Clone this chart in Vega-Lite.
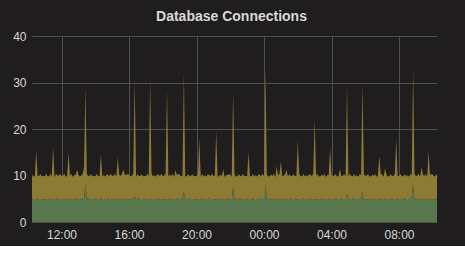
{
"$schema":"https://vega.github.io/schema/vega-lite/v6.json",
"padding":{"left":12,"top":10,"right":28,"bottom":6},
"width":405,"height":186,
"background":"#1f1d1d",
"title":{"text":"Database Connections","font":"Liberation Sans","fontSize":14,"fontWeight":"bold","color":"#d8d9da","anchor":"middle","frame":"group","offset":6,"dx":-3},
"config":{"view":{"stroke":null},"axis":{"labelFont":"Liberation Sans","labelFontSize":12,"labelColor":"#d8d9da","gridColor":"#505050","gridWidth":1,"ticks":false,"domain":false}},
"data":{"values":[
{"t":"2024-01-01T10:15","g":4.8,"y":5.5},{"t":"2024-01-01T10:20","g":5.0,"y":4.6},{"t":"2024-01-01T10:25","g":4.6,"y":5.2},{"t":"2024-01-01T10:30","g":4.9,"y":10.4},{"t":"2024-01-01T10:35","g":5.2,"y":4.7},{"t":"2024-01-01T10:40","g":4.8,"y":5.1},{"t":"2024-01-01T10:45","g":4.7,"y":5.6},{"t":"2024-01-01T10:50","g":5.0,"y":4.8},{"t":"2024-01-01T10:55","g":4.9,"y":5.0},
{"t":"2024-01-01T11:00","g":4.8,"y":5.0},{"t":"2024-01-01T11:05","g":5.0,"y":5.4},{"t":"2024-01-01T11:10","g":4.7,"y":5.2},{"t":"2024-01-01T11:15","g":4.9,"y":4.8},{"t":"2024-01-01T11:20","g":5.1,"y":5.3},{"t":"2024-01-01T11:25","g":4.8,"y":5.0},{"t":"2024-01-01T11:30","g":4.6,"y":11.6},{"t":"2024-01-01T11:35","g":5.0,"y":4.6},{"t":"2024-01-01T11:40","g":4.9,"y":5.4},{"t":"2024-01-01T11:45","g":5.2,"y":4.9},{"t":"2024-01-01T11:50","g":4.7,"y":5.2},{"t":"2024-01-01T11:55","g":4.8,"y":5.6},
{"t":"2024-01-01T12:00","g":5.0,"y":4.9},{"t":"2024-01-01T12:05","g":4.8,"y":5.2},{"t":"2024-01-01T12:10","g":4.9,"y":5.5},{"t":"2024-01-01T12:15","g":4.6,"y":5.0},{"t":"2024-01-01T12:20","g":5.1,"y":4.7},{"t":"2024-01-01T12:25","g":4.9,"y":10.0},{"t":"2024-01-01T12:30","g":4.8,"y":5.1},{"t":"2024-01-01T12:35","g":5.0,"y":5.4},{"t":"2024-01-01T12:40","g":4.7,"y":4.8},{"t":"2024-01-01T12:45","g":4.9,"y":5.2},{"t":"2024-01-01T12:50","g":5.1,"y":5.0},{"t":"2024-01-01T12:55","g":4.8,"y":6.5},
{"t":"2024-01-01T13:00","g":4.9,"y":5.3},{"t":"2024-01-01T13:05","g":4.7,"y":5.0},{"t":"2024-01-01T13:10","g":5.1,"y":4.9},{"t":"2024-01-01T13:15","g":4.8,"y":5.5},{"t":"2024-01-01T13:20","g":5.0,"y":6.8},{"t":"2024-01-01T13:25","g":8.0,"y":21.0},{"t":"2024-01-01T13:30","g":4.9,"y":5.4},{"t":"2024-01-01T13:35","g":5.2,"y":4.7},{"t":"2024-01-01T13:40","g":4.8,"y":5.1},{"t":"2024-01-01T13:45","g":4.7,"y":5.6},{"t":"2024-01-01T13:50","g":5.0,"y":4.8},{"t":"2024-01-01T13:55","g":4.9,"y":5.0},
{"t":"2024-01-01T14:00","g":4.8,"y":5.0},{"t":"2024-01-01T14:05","g":5.0,"y":5.4},{"t":"2024-01-01T14:10","g":4.7,"y":5.2},{"t":"2024-01-01T14:15","g":4.9,"y":4.8},{"t":"2024-01-01T14:20","g":5.1,"y":9.5},{"t":"2024-01-01T14:25","g":4.8,"y":5.0},{"t":"2024-01-01T14:30","g":4.6,"y":5.5},{"t":"2024-01-01T14:35","g":5.0,"y":4.6},{"t":"2024-01-01T14:40","g":4.9,"y":5.4},{"t":"2024-01-01T14:45","g":5.2,"y":4.9},{"t":"2024-01-01T14:50","g":4.7,"y":5.2},{"t":"2024-01-01T14:55","g":4.8,"y":5.6},
{"t":"2024-01-01T15:00","g":5.0,"y":4.9},{"t":"2024-01-01T15:05","g":4.8,"y":5.2},{"t":"2024-01-01T15:10","g":4.9,"y":5.5},{"t":"2024-01-01T15:15","g":4.6,"y":5.0},{"t":"2024-01-01T15:20","g":5.1,"y":8.9},{"t":"2024-01-01T15:25","g":4.9,"y":5.3},{"t":"2024-01-01T15:30","g":4.8,"y":5.1},{"t":"2024-01-01T15:35","g":5.0,"y":5.4},{"t":"2024-01-01T15:40","g":4.7,"y":6.6},{"t":"2024-01-01T15:45","g":4.9,"y":5.2},{"t":"2024-01-01T15:50","g":5.1,"y":5.0},{"t":"2024-01-01T15:55","g":4.8,"y":5.5},
{"t":"2024-01-01T16:00","g":4.9,"y":5.3},{"t":"2024-01-01T16:05","g":4.7,"y":5.0},{"t":"2024-01-01T16:10","g":5.1,"y":4.9},{"t":"2024-01-01T16:15","g":4.8,"y":5.5},{"t":"2024-01-01T16:20","g":5.6,"y":25.4},{"t":"2024-01-01T16:25","g":5.0,"y":4.6},{"t":"2024-01-01T16:30","g":4.9,"y":5.4},{"t":"2024-01-01T16:35","g":5.2,"y":4.7},{"t":"2024-01-01T16:40","g":4.8,"y":5.1},{"t":"2024-01-01T16:45","g":4.7,"y":5.6},{"t":"2024-01-01T16:50","g":5.0,"y":4.8},{"t":"2024-01-01T16:55","g":4.9,"y":5.0},
{"t":"2024-01-01T17:00","g":4.8,"y":5.0},{"t":"2024-01-01T17:05","g":5.0,"y":5.4},{"t":"2024-01-01T17:10","g":4.7,"y":5.2},{"t":"2024-01-01T17:15","g":4.9,"y":25.9},{"t":"2024-01-01T17:20","g":5.1,"y":5.3},{"t":"2024-01-01T17:25","g":4.8,"y":5.0},{"t":"2024-01-01T17:30","g":4.6,"y":5.5},{"t":"2024-01-01T17:35","g":5.0,"y":4.6},{"t":"2024-01-01T17:40","g":4.9,"y":5.4},{"t":"2024-01-01T17:45","g":5.2,"y":4.9},{"t":"2024-01-01T17:50","g":4.7,"y":5.2},{"t":"2024-01-01T17:55","g":4.8,"y":5.6},
{"t":"2024-01-01T18:00","g":5.0,"y":4.9},{"t":"2024-01-01T18:05","g":4.8,"y":5.2},{"t":"2024-01-01T18:10","g":4.9,"y":5.5},{"t":"2024-01-01T18:15","g":4.6,"y":23.9},{"t":"2024-01-01T18:20","g":5.1,"y":4.7},{"t":"2024-01-01T18:25","g":4.9,"y":5.3},{"t":"2024-01-01T18:30","g":4.8,"y":5.1},{"t":"2024-01-01T18:35","g":5.0,"y":5.4},{"t":"2024-01-01T18:40","g":4.7,"y":4.8},{"t":"2024-01-01T18:45","g":4.9,"y":6.3},{"t":"2024-01-01T18:50","g":5.1,"y":5.0},{"t":"2024-01-01T18:55","g":4.8,"y":5.5},
{"t":"2024-01-01T19:00","g":4.9,"y":5.3},{"t":"2024-01-01T19:05","g":4.7,"y":5.0},{"t":"2024-01-01T19:10","g":5.1,"y":4.9},{"t":"2024-01-01T19:15","g":6.5,"y":25.8},{"t":"2024-01-01T19:20","g":5.0,"y":4.6},{"t":"2024-01-01T19:25","g":4.6,"y":5.2},{"t":"2024-01-01T19:30","g":4.9,"y":5.4},{"t":"2024-01-01T19:35","g":5.2,"y":4.7},{"t":"2024-01-01T19:40","g":4.8,"y":5.1},{"t":"2024-01-01T19:45","g":4.7,"y":5.6},{"t":"2024-01-01T19:50","g":5.0,"y":4.8},{"t":"2024-01-01T19:55","g":4.9,"y":5.0},
{"t":"2024-01-01T20:00","g":4.8,"y":5.0},{"t":"2024-01-01T20:05","g":5.0,"y":5.4},{"t":"2024-01-01T20:10","g":4.7,"y":13.3},{"t":"2024-01-01T20:15","g":4.9,"y":4.8},{"t":"2024-01-01T20:20","g":5.1,"y":5.3},{"t":"2024-01-01T20:25","g":4.8,"y":5.0},{"t":"2024-01-01T20:30","g":4.6,"y":5.5},{"t":"2024-01-01T20:35","g":5.0,"y":4.6},{"t":"2024-01-01T20:40","g":4.9,"y":5.4},{"t":"2024-01-01T20:45","g":5.2,"y":4.9},{"t":"2024-01-01T20:50","g":4.7,"y":5.2},{"t":"2024-01-01T20:55","g":4.8,"y":5.6},
{"t":"2024-01-01T21:00","g":5.0,"y":4.9},{"t":"2024-01-01T21:05","g":4.8,"y":5.2},{"t":"2024-01-01T21:10","g":4.9,"y":14.7},{"t":"2024-01-01T21:15","g":4.6,"y":5.0},{"t":"2024-01-01T21:20","g":5.1,"y":4.7},{"t":"2024-01-01T21:25","g":4.9,"y":5.3},{"t":"2024-01-01T21:30","g":4.8,"y":5.1},{"t":"2024-01-01T21:35","g":5.0,"y":6.4},{"t":"2024-01-01T21:40","g":4.7,"y":4.8},{"t":"2024-01-01T21:45","g":4.9,"y":5.2},{"t":"2024-01-01T21:50","g":5.1,"y":5.0},{"t":"2024-01-01T21:55","g":4.8,"y":5.5},
{"t":"2024-01-01T22:00","g":4.9,"y":5.3},{"t":"2024-01-01T22:05","g":4.7,"y":5.0},{"t":"2024-01-01T22:10","g":7.5,"y":20.6},{"t":"2024-01-01T22:15","g":4.8,"y":5.5},{"t":"2024-01-01T22:20","g":5.0,"y":4.6},{"t":"2024-01-01T22:25","g":4.6,"y":5.2},{"t":"2024-01-01T22:30","g":4.9,"y":5.4},{"t":"2024-01-01T22:35","g":5.2,"y":4.7},{"t":"2024-01-01T22:40","g":4.8,"y":5.1},{"t":"2024-01-01T22:45","g":4.7,"y":5.6},{"t":"2024-01-01T22:50","g":5.0,"y":4.8},{"t":"2024-01-01T22:55","g":4.9,"y":5.0},
{"t":"2024-01-01T23:00","g":4.8,"y":5.0},{"t":"2024-01-01T23:05","g":5.0,"y":10.0},{"t":"2024-01-01T23:10","g":4.7,"y":5.2},{"t":"2024-01-01T23:15","g":4.9,"y":4.8},{"t":"2024-01-01T23:20","g":5.1,"y":5.3},{"t":"2024-01-01T23:25","g":4.8,"y":5.0},{"t":"2024-01-01T23:30","g":4.6,"y":5.5},{"t":"2024-01-01T23:35","g":5.0,"y":4.6},{"t":"2024-01-01T23:40","g":4.9,"y":5.4},{"t":"2024-01-01T23:45","g":5.2,"y":4.9},{"t":"2024-01-01T23:50","g":4.7,"y":5.2},{"t":"2024-01-01T23:55","g":4.8,"y":5.6},
{"t":"2024-01-02T00:00","g":5.0,"y":4.9},{"t":"2024-01-02T00:05","g":8.0,"y":25.1},{"t":"2024-01-02T00:10","g":4.9,"y":5.5},{"t":"2024-01-02T00:15","g":4.6,"y":5.0},{"t":"2024-01-02T00:20","g":5.1,"y":4.7},{"t":"2024-01-02T00:25","g":4.9,"y":5.3},{"t":"2024-01-02T00:30","g":4.8,"y":5.1},{"t":"2024-01-02T00:35","g":5.0,"y":5.4},{"t":"2024-01-02T00:40","g":4.7,"y":4.8},{"t":"2024-01-02T00:45","g":4.9,"y":7.1},{"t":"2024-01-02T00:50","g":5.1,"y":5.0},{"t":"2024-01-02T00:55","g":4.8,"y":5.5},
{"t":"2024-01-02T01:00","g":4.9,"y":8.1},{"t":"2024-01-02T01:05","g":4.7,"y":5.0},{"t":"2024-01-02T01:10","g":5.1,"y":4.9},{"t":"2024-01-02T01:15","g":4.8,"y":5.5},{"t":"2024-01-02T01:20","g":5.0,"y":6.2},{"t":"2024-01-02T01:25","g":4.6,"y":5.2},{"t":"2024-01-02T01:30","g":4.9,"y":5.4},{"t":"2024-01-02T01:35","g":5.2,"y":4.7},{"t":"2024-01-02T01:40","g":4.8,"y":5.1},{"t":"2024-01-02T01:45","g":4.7,"y":5.6},{"t":"2024-01-02T01:50","g":5.0,"y":4.8},{"t":"2024-01-02T01:55","g":4.9,"y":5.0},
{"t":"2024-01-02T02:00","g":4.8,"y":12.8},{"t":"2024-01-02T02:05","g":5.0,"y":5.4},{"t":"2024-01-02T02:10","g":4.7,"y":5.2},{"t":"2024-01-02T02:15","g":4.9,"y":4.8},{"t":"2024-01-02T02:20","g":5.1,"y":5.3},{"t":"2024-01-02T02:25","g":4.8,"y":5.0},{"t":"2024-01-02T02:30","g":4.6,"y":5.5},{"t":"2024-01-02T02:35","g":5.0,"y":4.6},{"t":"2024-01-02T02:40","g":4.9,"y":5.4},{"t":"2024-01-02T02:45","g":5.2,"y":4.9},{"t":"2024-01-02T02:50","g":4.7,"y":5.2},{"t":"2024-01-02T02:55","g":4.8,"y":5.6},
{"t":"2024-01-02T03:00","g":5.0,"y":17.2},{"t":"2024-01-02T03:05","g":4.8,"y":5.2},{"t":"2024-01-02T03:10","g":4.9,"y":5.5},{"t":"2024-01-02T03:15","g":4.6,"y":5.0},{"t":"2024-01-02T03:20","g":5.1,"y":4.7},{"t":"2024-01-02T03:25","g":4.9,"y":5.3},{"t":"2024-01-02T03:30","g":4.8,"y":5.1},{"t":"2024-01-02T03:35","g":5.0,"y":5.4},{"t":"2024-01-02T03:40","g":4.7,"y":4.8},{"t":"2024-01-02T03:45","g":4.9,"y":5.2},{"t":"2024-01-02T03:50","g":5.1,"y":5.0},{"t":"2024-01-02T03:55","g":4.8,"y":11.2},
{"t":"2024-01-02T04:00","g":4.9,"y":5.3},{"t":"2024-01-02T04:05","g":4.7,"y":5.0},{"t":"2024-01-02T04:10","g":5.1,"y":4.9},{"t":"2024-01-02T04:15","g":4.8,"y":5.5},{"t":"2024-01-02T04:20","g":5.0,"y":4.6},{"t":"2024-01-02T04:25","g":4.6,"y":5.2},{"t":"2024-01-02T04:30","g":4.9,"y":6.5},{"t":"2024-01-02T04:35","g":5.2,"y":4.7},{"t":"2024-01-02T04:40","g":4.8,"y":5.1},{"t":"2024-01-02T04:45","g":4.7,"y":5.6},{"t":"2024-01-02T04:50","g":5.0,"y":4.8},{"t":"2024-01-02T04:55","g":6.0,"y":23.4},
{"t":"2024-01-02T05:00","g":4.8,"y":5.0},{"t":"2024-01-02T05:05","g":5.0,"y":5.4},{"t":"2024-01-02T05:10","g":4.7,"y":5.2},{"t":"2024-01-02T05:15","g":4.9,"y":4.8},{"t":"2024-01-02T05:20","g":5.1,"y":5.3},{"t":"2024-01-02T05:25","g":4.8,"y":5.0},{"t":"2024-01-02T05:30","g":4.6,"y":5.5},{"t":"2024-01-02T05:35","g":5.0,"y":4.6},{"t":"2024-01-02T05:40","g":4.9,"y":5.4},{"t":"2024-01-02T05:45","g":5.2,"y":4.9},{"t":"2024-01-02T05:50","g":6.5,"y":23.4},{"t":"2024-01-02T05:55","g":4.8,"y":5.6},
{"t":"2024-01-02T06:00","g":5.0,"y":4.9},{"t":"2024-01-02T06:05","g":4.8,"y":5.2},{"t":"2024-01-02T06:10","g":4.9,"y":5.5},{"t":"2024-01-02T06:15","g":4.6,"y":5.0},{"t":"2024-01-02T06:20","g":5.1,"y":4.7},{"t":"2024-01-02T06:25","g":4.9,"y":5.3},{"t":"2024-01-02T06:30","g":4.8,"y":5.1},{"t":"2024-01-02T06:35","g":5.0,"y":5.4},{"t":"2024-01-02T06:40","g":4.7,"y":4.8},{"t":"2024-01-02T06:45","g":4.9,"y":5.2},{"t":"2024-01-02T06:50","g":5.1,"y":9.1},{"t":"2024-01-02T06:55","g":4.8,"y":5.5},
{"t":"2024-01-02T07:00","g":4.9,"y":5.3},{"t":"2024-01-02T07:05","g":4.7,"y":5.0},{"t":"2024-01-02T07:10","g":5.1,"y":6.4},{"t":"2024-01-02T07:15","g":4.8,"y":5.5},{"t":"2024-01-02T07:20","g":5.0,"y":4.6},{"t":"2024-01-02T07:25","g":4.6,"y":5.2},{"t":"2024-01-02T07:30","g":4.9,"y":5.4},{"t":"2024-01-02T07:35","g":5.2,"y":4.7},{"t":"2024-01-02T07:40","g":4.8,"y":5.1},{"t":"2024-01-02T07:45","g":4.7,"y":5.6},{"t":"2024-01-02T07:50","g":5.0,"y":12.9},{"t":"2024-01-02T07:55","g":4.9,"y":5.0},
{"t":"2024-01-02T08:00","g":4.8,"y":5.0},{"t":"2024-01-02T08:05","g":5.0,"y":5.4},{"t":"2024-01-02T08:10","g":4.7,"y":5.2},{"t":"2024-01-02T08:15","g":4.9,"y":4.8},{"t":"2024-01-02T08:20","g":5.1,"y":5.3},{"t":"2024-01-02T08:25","g":4.8,"y":5.0},{"t":"2024-01-02T08:30","g":4.6,"y":5.5},{"t":"2024-01-02T08:35","g":5.0,"y":4.6},{"t":"2024-01-02T08:40","g":4.9,"y":5.4},{"t":"2024-01-02T08:45","g":5.2,"y":4.9},{"t":"2024-01-02T08:50","g":8.0,"y":24.8},{"t":"2024-01-02T08:55","g":4.8,"y":5.6},
{"t":"2024-01-02T09:00","g":5.0,"y":4.9},{"t":"2024-01-02T09:05","g":4.8,"y":5.2},{"t":"2024-01-02T09:10","g":4.9,"y":5.5},{"t":"2024-01-02T09:15","g":4.6,"y":5.0},{"t":"2024-01-02T09:20","g":5.1,"y":6.6},{"t":"2024-01-02T09:25","g":4.9,"y":5.3},{"t":"2024-01-02T09:30","g":4.8,"y":5.1},{"t":"2024-01-02T09:35","g":5.0,"y":5.4},{"t":"2024-01-02T09:40","g":4.7,"y":4.8},{"t":"2024-01-02T09:45","g":4.9,"y":10.3},{"t":"2024-01-02T09:50","g":5.1,"y":5.0},{"t":"2024-01-02T09:55","g":4.8,"y":5.5},
{"t":"2024-01-02T10:00","g":4.9,"y":5.3},{"t":"2024-01-02T10:05","g":4.7,"y":5.0},{"t":"2024-01-02T10:10","g":5.1,"y":4.9},{"t":"2024-01-02T10:15","g":4.8,"y":5.5}
]},
"transform":[{"fold":["g","y"],"as":["s","v"]}],
"mark":{"type":"area","interpolate":"linear"},
"encoding":{
"x":{"field":"t","type":"temporal","scale":{"nice":false},"axis":{"title":null,"format":"%H:%M","values":[{"year":2024,"month":1,"date":1,"hours":12},{"year":2024,"month":1,"date":1,"hours":16},{"year":2024,"month":1,"date":1,"hours":20},{"year":2024,"month":1,"date":2,"hours":0},{"year":2024,"month":1,"date":2,"hours":4},{"year":2024,"month":1,"date":2,"hours":8}],"labelPadding":7,"grid":true}},
"y":{"field":"v","type":"quantitative","stack":"zero","scale":{"domain":[0,40],"nice":false},"axis":{"title":null,"values":[0,10,20,30,40],"labelPadding":6,"grid":true}},
"color":{"field":"s","type":"nominal","scale":{"domain":["g","y"],"range":["#5a784d","#8d7a34"]},"legend":null},
"order":{"field":"s","sort":"ascending"}
}
}
